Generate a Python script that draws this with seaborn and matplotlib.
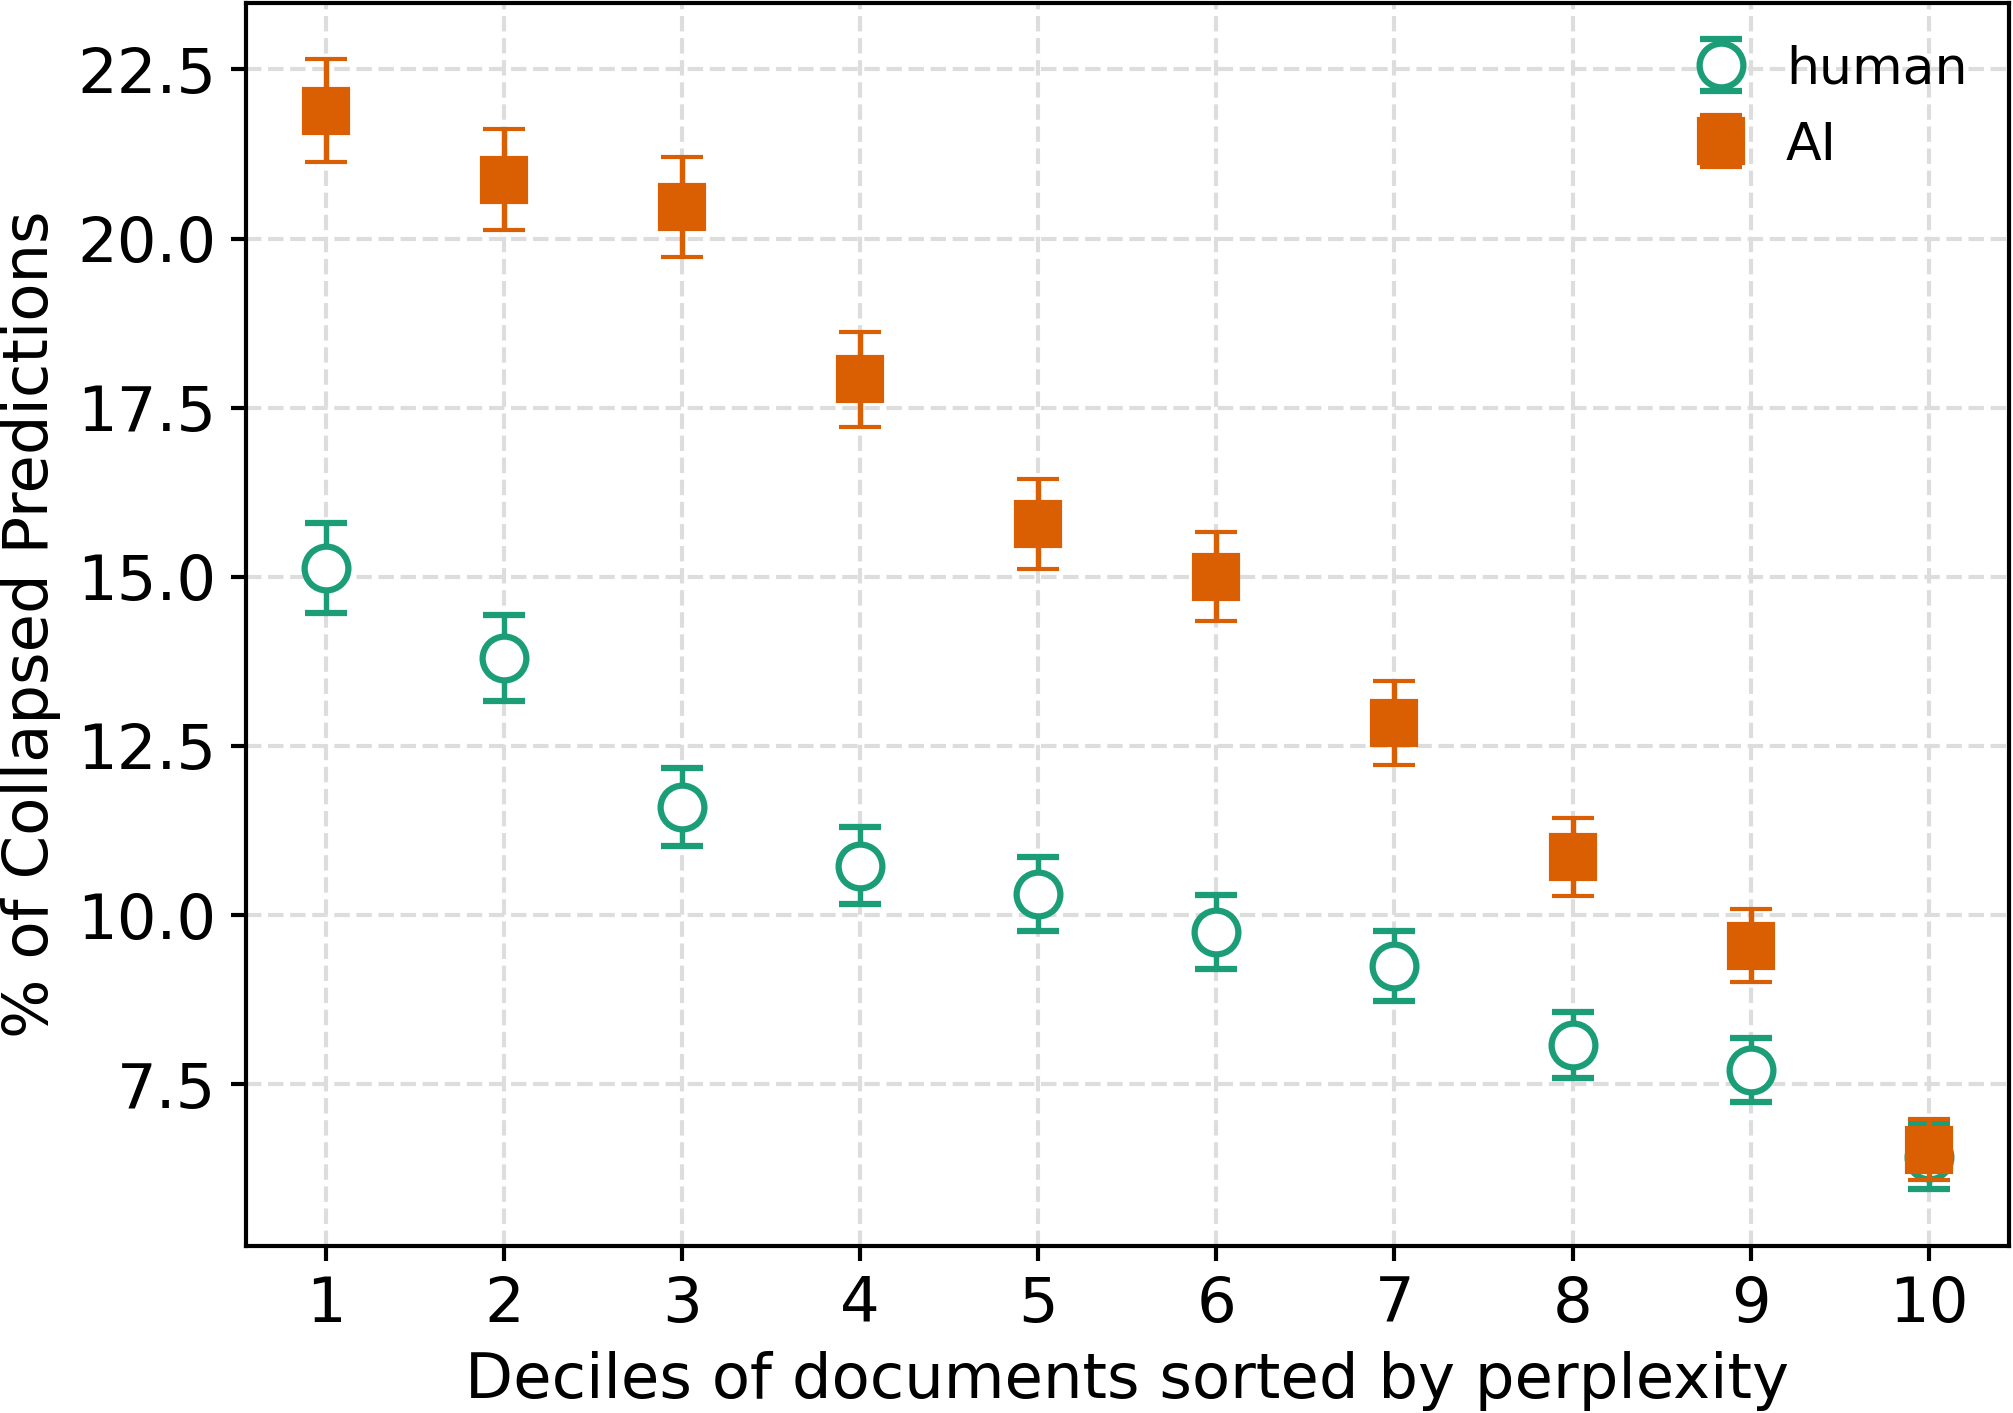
import numpy as np
import pandas as pd
import matplotlib
matplotlib.use("Agg")
import matplotlib.pyplot as plt
import seaborn as sns

# deciles of documents sorted by perplexity
deciles = [1, 2, 3, 4, 5, 6, 7, 8, 9, 10]

# % of collapsed predictions
human_mean = [15.13, 13.80, 11.60, 10.73, 10.31, 9.75, 9.25, 8.08, 7.71, 6.43]
human_err = [0.66, 0.63, 0.58, 0.57, 0.55, 0.55, 0.52, 0.49, 0.48, 0.48]

ai_mean = [21.89, 20.87, 20.47, 17.92, 15.78, 15.00, 12.84, 10.86, 9.55, 6.53]
ai_err = [0.76, 0.75, 0.74, 0.70, 0.67, 0.66, 0.62, 0.58, 0.54, 0.45]

sns.set_theme(style="ticks")
plt.rcParams['font.family'] = ['DejaVu Sans']
plt.rcParams['text.color'] = 'black'
plt.rcParams['axes.labelcolor'] = 'black'
plt.rcParams['xtick.color'] = 'black'
plt.rcParams['ytick.color'] = 'black'
pal = sns.color_palette("Dark2")

fig, ax = plt.subplots(figsize=(2013/300, 1413/300), dpi=300)
fig.subplots_adjust(left=0.122, right=0.998, bottom=0.1185, top=0.998)

ax.errorbar(deciles, human_mean, yerr=human_err, fmt='o', color=pal[0],
            markerfacecolor='white', markeredgecolor=pal[0], markersize=10.5,
            markeredgewidth=1.5, capsize=5, elinewidth=1.3, capthick=1.3,
            label="human", zorder=3)
ax.errorbar(deciles, ai_mean, yerr=ai_err, fmt='s', color=pal[1],
            markersize=10.5, markeredgewidth=1.0, capsize=5, elinewidth=1.3,
            capthick=1.3, label="AI", zorder=4)

ax.grid(True, linestyle='--', color='#dddddd', linewidth=1.0)
ax.set_axisbelow(True)
ax.set_xticks(deciles)
ax.tick_params(labelsize=15, width=1.0, length=3.5)
for s in ax.spines.values():
    s.set_linewidth(1.0)
    s.set_color('black')

ax.set_xlabel("Deciles of documents sorted by perplexity", fontsize=15, labelpad=4)
ax.set_ylabel("% of Collapsed Predictions", fontsize=15, labelpad=4)

ax.legend(loc='upper right', frameon=False, fontsize=12.5, handlelength=1.0,
          handletextpad=0.75, borderaxespad=0.4)

fig.savefig("out.png", dpi=300)
